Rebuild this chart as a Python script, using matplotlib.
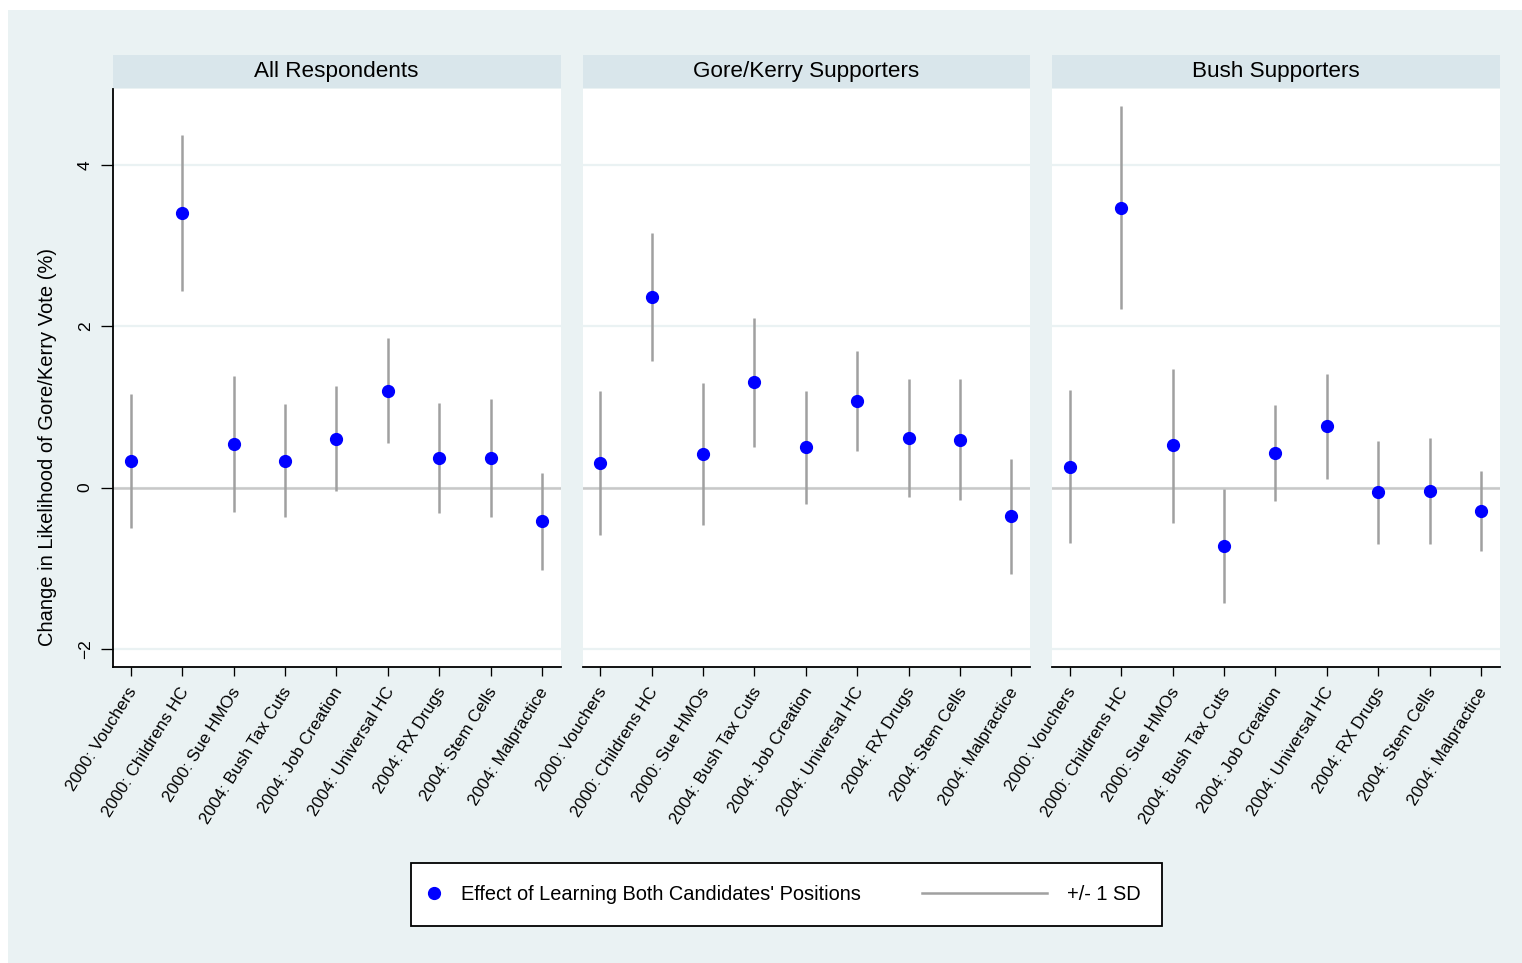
import numpy as np
import matplotlib.pyplot as plt
from matplotlib.lines import Line2D
from matplotlib.legend_handler import HandlerLine2D
from matplotlib.patches import Rectangle
from matplotlib.transforms import ScaledTranslation

plt.rcParams['font.family'] = ['Liberation Sans', 'DejaVu Sans']

# Issues and groups
issues = ['2000: Vouchers', '2000: Childrens HC', '2000: Sue HMOs',
          '2004: Bush Tax Cuts', '2004: Job Creation', '2004: Universal HC',
          '2004: RX Drugs', '2004: Stem Cells', '2004: Malpractice']
groups = ['All Respondents', 'Gore/Kerry Supporters', 'Bush Supporters']

# Effect estimates and +/- 1 SD bounds, per group
all_eff = [0.335, 3.405, 0.545, 0.335, 0.603, 1.202, 0.364, 0.364, -0.417]
all_lo = [-0.496, 2.438, -0.298, -0.364, -0.045, 0.558, -0.318, -0.364, -1.021]
all_hi = [1.161, 4.376, 1.384, 1.037, 1.256, 1.855, 1.045, 1.095, 0.182]

dem_eff = [0.302, 2.364, 0.413, 1.306, 0.504, 1.074, 0.616, 0.595, -0.355]
dem_lo = [-0.587, 1.574, -0.467, 0.504, -0.198, 0.455, -0.116, -0.157, -1.070]
dem_hi = [1.194, 3.153, 1.293, 2.103, 1.202, 1.694, 1.343, 1.343, 0.355]

rep_eff = [0.259, 3.469, 0.523, -0.720, 0.431, 0.762, -0.059, -0.038, -0.289]
rep_lo = [-0.690, 2.209, -0.439, -1.431, -0.167, 0.109, -0.699, -0.699, -0.787]
rep_hi = [1.209, 4.732, 1.477, -0.013, 1.025, 1.406, 0.577, 0.615, 0.209]

series = [(all_eff, all_lo, all_hi), (dem_eff, dem_lo, dem_hi), (rep_eff, rep_lo, rep_hi)]

# colours (stata s2color look)
bg = '#eaf2f3'
strip_col = '#d9e6eb'
bar_col = '#a0a0a0'
dot_col = '#0000ff'

W, H = 1522, 963
fig = plt.figure(figsize=(W / 100, H / 100), dpi=100)
fig.patch.set_facecolor('white')
fig.add_artist(Rectangle((8 / W, 0), 1 - 8 / W, 1 - 10 / H, transform=fig.transFigure,
                         facecolor=bg, edgecolor='none', zorder=0))


def frac(x0, y0, w, h):
    return [x0 / W, 1 - (y0 + h) / H, w / W, h / H]


x = np.arange(1, len(issues) + 1)
lefts = [113, 582.5, 1052]
for i, (eff, lo, hi) in enumerate(series):
    ax = fig.add_axes(frac(lefts[i], 89, 447.5, 578))
    ax.set_facecolor('white')
    ax.set_yticks([-2, 0, 2, 4])
    ax.yaxis.grid(True, color=bg, lw=1.6, zorder=0)
    ax.set_axisbelow(True)
    ax.axhline(0, color='#c8c8c8', lw=1.8, zorder=1)
    ax.vlines(x, lo, hi, color=bar_col, lw=1.8, zorder=2)
    ax.plot(x, eff, 'o', color=dot_col, ms=8.5, mec=dot_col, zorder=3)
    ax.set_xlim(0.655, 9.36)
    ax.set_ylim(-2.223, 4.942)
    ax.set_xticks(x)
    ax.set_xticklabels(issues, rotation=58, ha='right', va='center',
                       rotation_mode='anchor', fontsize=12.3)
    ax.tick_params(axis='x', length=6.7, width=0.95, pad=9)
    for lab in ax.get_xticklabels():
        lab.set_transform(lab.get_transform() + ScaledTranslation(0.03, 0, fig.dpi_scale_trans))
    for s in ['top', 'right']:
        ax.spines[s].set_visible(False)
    ax.spines['bottom'].set_linewidth(1.3)
    if i == 0:
        ax.spines['left'].set_linewidth(1.3)
        ax.tick_params(axis='y', length=8.6, width=0.95, pad=6, labelsize=12.5,
                       labelrotation=90)
        for lab in ax.get_yticklabels():
            lab.set_va('center')
    else:
        ax.spines['left'].set_visible(False)
        ax.tick_params(axis='y', length=0, labelleft=False)

    # header strip
    st = fig.add_axes(frac(lefts[i], 55, 447.5, 33.5))
    st.set_facecolor(strip_col)
    st.set_xticks([])
    st.set_yticks([])
    for s in st.spines.values():
        s.set_visible(False)
    st.text(0.5, 0.5, groups[i], ha='center', va='center', fontsize=16.2,
            transform=st.transAxes)

fig.text(48 / W, 1 - 447.5 / H, 'Change in Likelihood of Gore/Kerry Vote (%)',
         rotation=90, ha='center', va='center', fontsize=14.5)


class LongLine(HandlerLine2D):
    # draw the SD key as a long line ending just before its label
    def get_xdata(self, legend, xdescent, ydescent, width, height, fontsize):
        x_end = -xdescent + width + 0.29 * fontsize
        xdata = np.array([x_end - 6.25 * fontsize, x_end])
        return xdata, xdata[1:]


dot_key = Line2D([], [], ls='none', marker='o', color=dot_col, ms=8.5)
sd_key = Line2D([], [], color=bar_col, lw=1.8)
leg = fig.legend([dot_key, sd_key],
                 ["Effect of Learning Both Candidates' Positions", '+/- 1 SD'],
                 handler_map={sd_key: LongLine()},
                 loc='upper left', bbox_to_anchor=(411 / W, 1 - 863 / H),
                 borderaxespad=0, ncol=2, fontsize=14.4, frameon=True, fancybox=False,
                 edgecolor='black', facecolor='white', framealpha=1,
                 borderpad=1.09, handlelength=0.12, handletextpad=1.29,
                 columnspacing=8.89, numpoints=1)
leg.get_frame().set_linewidth(1.3)

fig.savefig('out.png', dpi=100, facecolor=fig.get_facecolor())
